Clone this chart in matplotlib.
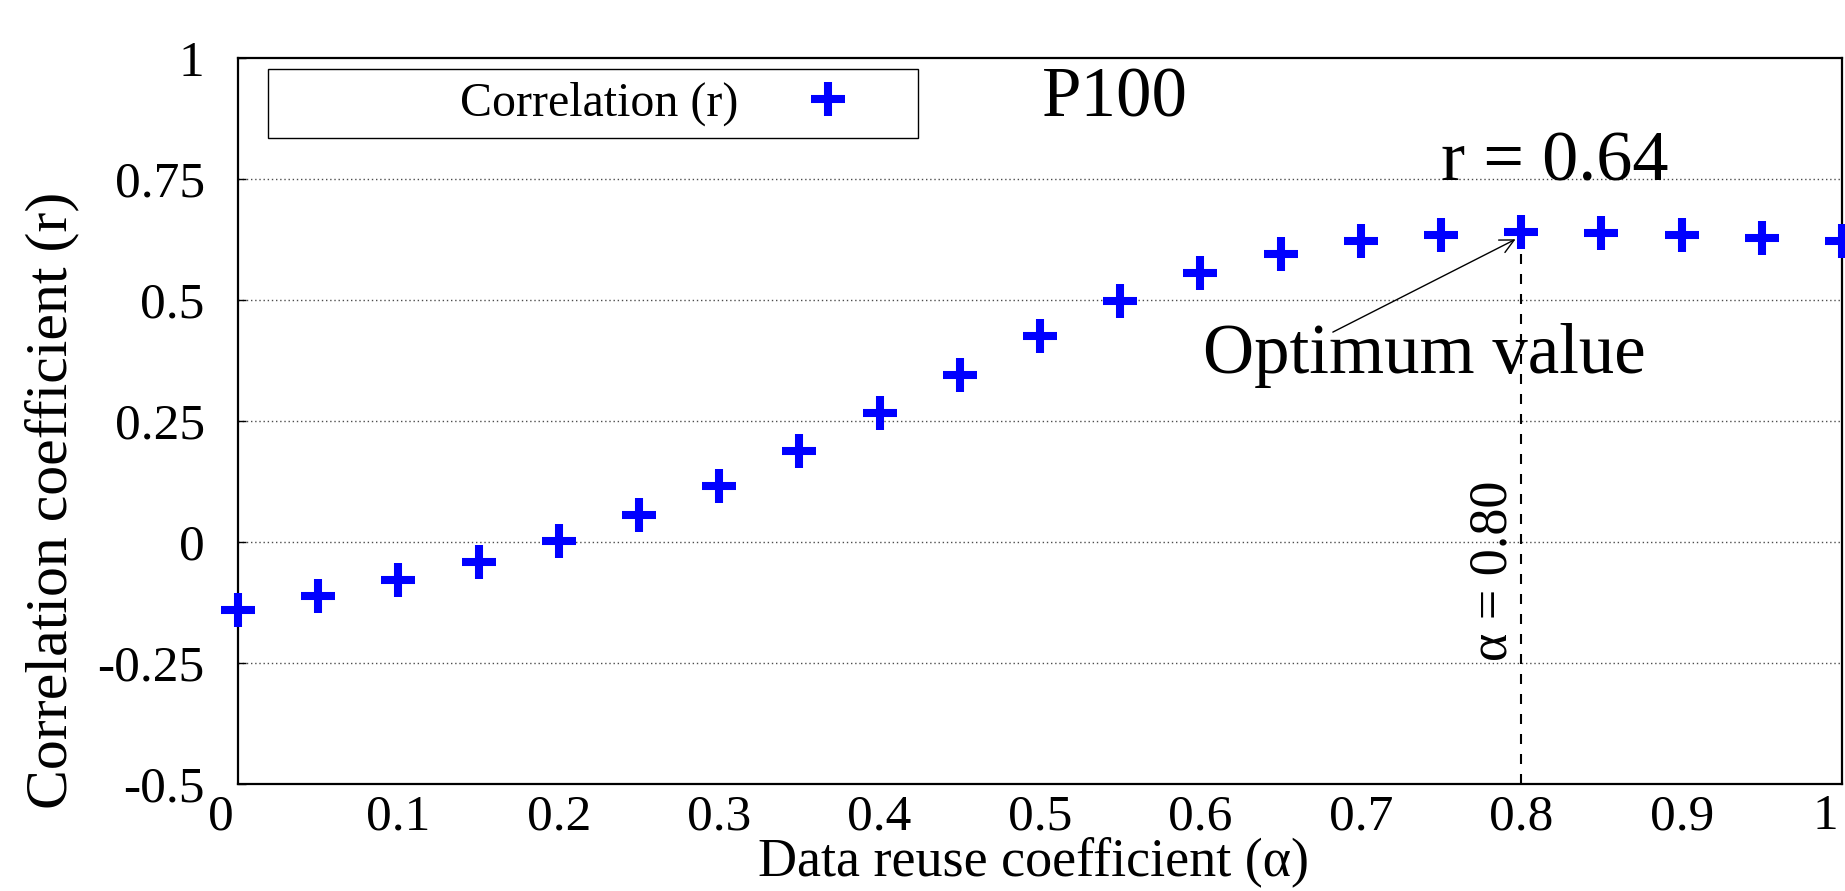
import matplotlib
matplotlib.use("Agg")
import matplotlib.pyplot as plt
from matplotlib.patches import Rectangle
from matplotlib.transforms import ScaledTranslation

plt.rcParams['font.family'] = ['Liberation Serif', 'DejaVu Serif']

# data
alpha = [0.0, 0.05, 0.1, 0.15, 0.2, 0.25, 0.3, 0.35, 0.4, 0.45, 0.5,
         0.55, 0.6, 0.65, 0.7, 0.75, 0.8, 0.85, 0.9, 0.95, 1.0]
corr = [-0.14, -0.112, -0.079, -0.041, 0.003, 0.056, 0.116, 0.188, 0.266, 0.346, 0.426,
        0.497, 0.555, 0.595, 0.621, 0.635, 0.640, 0.639, 0.634, 0.629, 0.622]
opt_alpha = 0.80
opt_r = 0.64

xticks = [0, 0.1, 0.2, 0.3, 0.4, 0.5, 0.6, 0.7, 0.8, 0.9, 1.0]
xtick_labels = ['0', '0.1', '0.2', '0.3', '0.4', '0.5', '0.6', '0.7', '0.8', '0.9', '1']
yticks = [-0.5, -0.25, 0, 0.25, 0.5, 0.75, 1.0]
ytick_labels = ['-0.5', '-0.25', '0', '0.25', '0.5', '0.75', '1']

fig = plt.figure(figsize=(18.45, 8.91), dpi=100)
ax = fig.add_axes([0.129, 0.120, 0.8694, 0.815])

ax.plot(alpha, corr, linestyle='none', marker='+', markersize=24, markeredgewidth=5.8,
        color='#0000ff', label='Correlation (r)', clip_on=False, zorder=5)

ax.set_xlim(0, 1)
ax.set_ylim(-0.5, 1)
ax.set_xticks(xticks)
ax.set_xticklabels(xtick_labels, fontsize=37)
ax.set_yticks(yticks)
ax.set_yticklabels(ytick_labels, fontsize=37)
ax.tick_params(axis='y', direction='in', length=6, width=1, pad=24)
ax.tick_params(axis='x', length=0, pad=7)
for sp in ax.spines.values():
    sp.set_linewidth(1.6)

# the end labels "0" and "1" sit a bit to the left, like in the original
shift = ScaledTranslation(-0.17, 0, fig.dpi_scale_trans)
xt = ax.xaxis.get_major_ticks()
for t in (xt[0], xt[-1]):
    t.label1.set_transform(t.label1.get_transform() + shift)

for v in yticks[1:-1]:
    ax.axhline(v, color='0.3', lw=1, linestyle=(0, (1, 2)), zorder=0)

# optimum marker line and labels
ax.vlines(opt_alpha, -0.5, opt_r, colors='black', lw=1.5, linestyles=(0, (4.8, 4.8)), zorder=3)
ax.text(opt_alpha - 0.002, -0.06, 'α = 0.80', rotation=90, ha='right', va='center', fontsize=39)
ax.text(0.75, 0.7474, 'r = 0.64', fontsize=52, ha='left', va='baseline')
ax.text(0.6016, 0.349, 'Optimum value', fontsize=51, ha='left', va='baseline')
ax.annotate('', xy=(opt_alpha - 0.002, opt_r - 0.012), xytext=(0.681, 0.431),
            arrowprops=dict(arrowstyle='->', lw=1, color='black', mutation_scale=25))
ax.text(0.501, 0.88, 'P100', fontsize=51, ha='left', va='baseline')

# legend with a wide gnuplot-style box
ax.add_patch(Rectangle((0.0187, 0.8894), 0.4053, 0.095, transform=ax.transAxes,
                       fill=False, lw=1, edgecolor='black', zorder=6))
ax.legend(loc='center right', bbox_to_anchor=(0.3828, 0.937), frameon=False,
          markerfirst=False, fontsize=34.5, handlelength=1.0, handletextpad=1.375,
          borderpad=0, borderaxespad=0)

fig.text(0.028, 0.438, 'Correlation coefficient (r)', rotation=90, ha='center',
         va='center', fontsize=43)
fig.text(0.5604, 0.0325, 'Data reuse coefficient (α)', ha='center', va='center', fontsize=39)

fig.savefig('out.png', dpi=100)
